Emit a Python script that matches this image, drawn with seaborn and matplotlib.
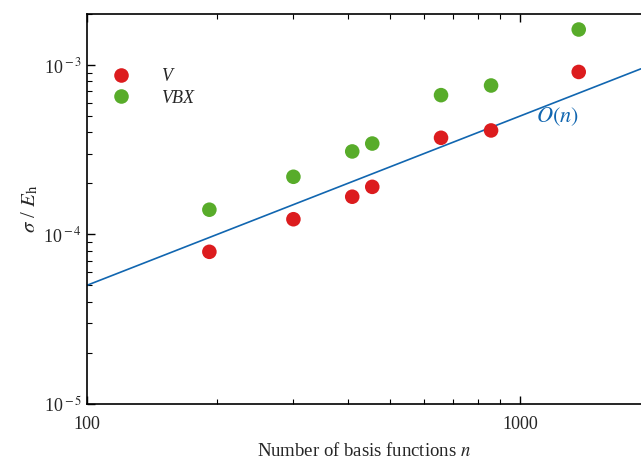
import numpy as np
import pandas as pd
import seaborn as sns
import matplotlib.pyplot as plt
from matplotlib.ticker import LogLocator, NullFormatter, FixedLocator, FixedFormatter

# 데이터
n_basis = [192, 300, 410, 456, 657, 857, 1365]
sigma_V = [7.9e-5, 1.23e-4, 1.67e-4, 1.91e-4, 3.72e-4, 4.11e-4, 9.1e-4]
sigma_VBX = [1.40e-4, 2.19e-4, 3.09e-4, 3.44e-4, 6.64e-4, 7.57e-4, 1.62e-3]
line_n = [100, 1900]
line_coef = 5e-7

df = pd.DataFrame({
    'n': n_basis * 2,
    'sigma': sigma_V + sigma_VBX,
    'method': ['V'] * len(n_basis) + ['VBX'] * len(n_basis),
})

sns.set_theme(style='ticks')
plt.rcParams['font.family'] = ['Liberation Serif', 'DejaVu Serif']
plt.rcParams['mathtext.fontset'] = 'stix'
plt.rcParams['axes.unicode_minus'] = False

fig = plt.figure(figsize=(6.41, 4.59), dpi=100)
ax = fig.add_axes([0.135, 0.12, 0.865, 0.8495])

ax.set_xscale('log')
ax.set_yscale('log')

ln = np.array(line_n, dtype=float)
ax.plot(ln, line_coef * ln, color='#1166b0', lw=1.2, zorder=1)

sns.scatterplot(data=df, x='n', y='sigma', hue='method',
                palette={'V': '#dc1c1e', 'VBX': '#58ac2a'},
                s=110, edgecolor='none', ax=ax, zorder=3)

ax.text(1090, 4.96e-4, '$O(n)$', color='#1166b0', fontsize=16, va='center')

ax.set_xlim(100, 1900)
ax.set_ylim(1e-5, 2e-3)

ax.xaxis.set_major_locator(FixedLocator([100, 1000]))
ax.xaxis.set_major_formatter(FixedFormatter(['100', '1000']))
ax.xaxis.set_minor_locator(LogLocator(base=10, subs=np.arange(2, 10)))
ax.xaxis.set_minor_formatter(NullFormatter())
ax.yaxis.set_major_locator(FixedLocator([1e-5, 1e-4, 1e-3]))
ax.yaxis.set_major_formatter(FixedFormatter([r'10$^{\rm -5}$', r'10$^{\rm -4}$', r'10$^{\rm -3}$']))
ax.yaxis.set_minor_locator(LogLocator(base=10, subs=np.arange(2, 10)))
ax.yaxis.set_minor_formatter(NullFormatter())

ax.tick_params(which='both', direction='in', top=True, right=False, labelsize=13, color='black')
ax.tick_params(which='major', length=6, width=1)
ax.tick_params(which='minor', length=3.5, width=0.8)
ax.tick_params(axis='x', which='major', pad=9)
ax.spines['right'].set_visible(False)
for sp in ['left', 'bottom', 'top']:
    ax.spines[sp].set_linewidth(1.2)
    ax.spines[sp].set_color('black')

ax.set_xlabel('Number of basis functions $n$', fontsize=13.5, labelpad=6)
ax.set_ylabel(r'$\sigma$ / $E_{\rm h}$', fontsize=15, labelpad=2)

leg = ax.legend(loc='upper left', bbox_to_anchor=(0.0, 0.903), frameon=False,
                fontsize=13, handletextpad=1.25, labelspacing=0.25, markerscale=1.0)
for t in leg.get_texts():
    t.set_fontstyle('italic')

fig.savefig('out.png', dpi=100)
